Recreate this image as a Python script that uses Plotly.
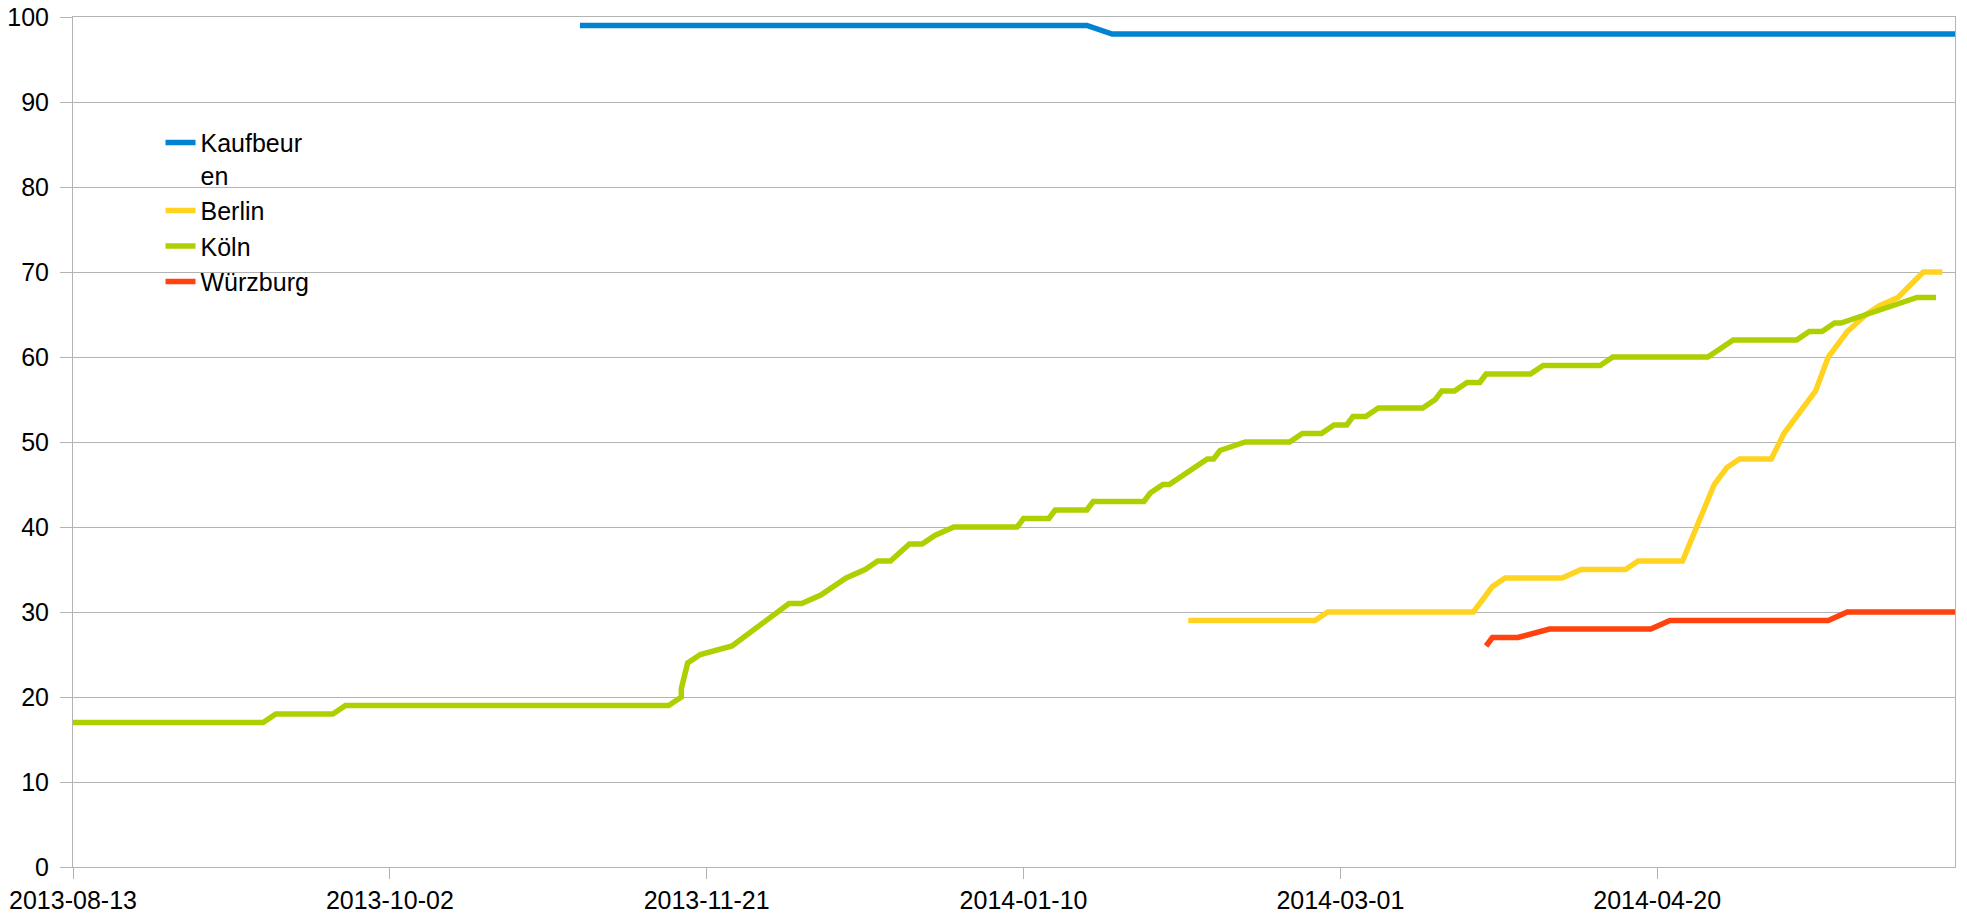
import plotly.graph_objects as go

# ---- data ----
series_names = ["Kaufbeur<br>en", "Berlin", "Köln", "Würzburg"]
series_colors = ["#0084d1", "#ffd320", "#aecf00", "#ff420e"]

kaufbeuren_dates = ["2013-11-01", "2014-01-20", "2014-01-24", "2014-06-06"]
kaufbeuren_vals = [99, 99, 98, 98]

berlin_dates = ["2014-02-05", "2014-02-25", "2014-02-27", "2014-03-22", "2014-03-25",
                "2014-03-27", "2014-04-05", "2014-04-08", "2014-04-15", "2014-04-17",
                "2014-04-24", "2014-04-29", "2014-05-01", "2014-05-03", "2014-05-08",
                "2014-05-10", "2014-05-15", "2014-05-17", "2014-05-20", "2014-05-23",
                "2014-05-25", "2014-05-28", "2014-06-01", "2014-06-04"]
berlin_vals = [29, 29, 30, 30, 33,
               34, 34, 35, 35, 36,
               36, 45, 47, 48, 48,
               51, 56, 60, 63, 65,
               66, 67, 70, 70]

koeln_dates = ["2013-08-13", "2013-09-12", "2013-09-14", "2013-09-23", "2013-09-25",
               "2013-11-15", "2013-11-17", "2013-11-17", "2013-11-18", "2013-11-20",
               "2013-11-25", "2013-12-02", "2013-12-04", "2013-12-06", "2013-12-09",
               "2013-12-13", "2013-12-16", "2013-12-18", "2013-12-20", "2013-12-23",
               "2013-12-25", "2013-12-27", "2013-12-30", "2014-01-09", "2014-01-10",
               "2014-01-14", "2014-01-15", "2014-01-20", "2014-01-21", "2014-01-29",
               "2014-01-30", "2014-02-01", "2014-02-02", "2014-02-08", "2014-02-09",
               "2014-02-10", "2014-02-14", "2014-02-21", "2014-02-23", "2014-02-26",
               "2014-02-28", "2014-03-02", "2014-03-03", "2014-03-05", "2014-03-07",
               "2014-03-14", "2014-03-16", "2014-03-17", "2014-03-19", "2014-03-21",
               "2014-03-23", "2014-03-24", "2014-03-31", "2014-04-02", "2014-04-11",
               "2014-04-13", "2014-04-28", "2014-05-02", "2014-05-12", "2014-05-14",
               "2014-05-16", "2014-05-18", "2014-05-19", "2014-05-23", "2014-05-27",
               "2014-05-31", "2014-06-03"]
koeln_vals = [17, 17, 18, 18, 19,
              19, 20, 21, 24, 25,
              26, 30, 31, 31, 32,
              34, 35, 36, 36, 38,
              38, 39, 40, 40, 41,
              41, 42, 42, 43, 43,
              44, 45, 45, 48, 48,
              49, 50, 50, 51, 51,
              52, 52, 53, 53, 54,
              54, 55, 56, 56, 57,
              57, 58, 58, 59, 59,
              60, 60, 62, 62, 63,
              63, 64, 64, 65, 66,
              67, 67]

wuerzburg_dates = ["2014-03-24", "2014-03-25", "2014-03-29", "2014-04-03", "2014-04-19",
                   "2014-04-22", "2014-05-17", "2014-05-20", "2014-06-06"]
wuerzburg_vals = [26, 27, 27, 28, 28, 29, 29, 30, 30]

x_tick_labels = ["2013-08-13", "2013-10-02", "2013-11-21", "2014-01-10", "2014-03-01", "2014-04-20"]
x_range = ["2013-08-13", "2014-06-06"]

FONT = "Liberation Sans, Arial, sans-serif"
GRID = "#b3b3b3"

fig = go.Figure()
all_series = [
    (kaufbeuren_dates, kaufbeuren_vals),
    (berlin_dates, berlin_vals),
    (koeln_dates, koeln_vals),
    (wuerzburg_dates, wuerzburg_vals),
]
for (xs, ys), name, color in zip(all_series, series_names, series_colors):
    fig.add_trace(go.Scatter(x=xs, y=ys, mode="lines", name=name,
                             line=dict(color=color, width=5.5)))

fig.update_layout(
    width=1967, height=917,
    margin=dict(l=73, r=12, t=17, b=50, autoexpand=False),
    paper_bgcolor="white", plot_bgcolor="white",
    font=dict(family=FONT, size=25, color="black"),
    showlegend=True,
    legend=dict(x=0.0465, y=0.879, xanchor="left", yanchor="top",
                bgcolor="rgba(0,0,0,0)", valign="top",
                font=dict(family=FONT, size=25, color="black"),
                tracegroupgap=0),
    xaxis=dict(type="date", range=x_range, tickvals=x_tick_labels, ticktext=x_tick_labels,
               automargin=False,
               showgrid=False, zeroline=False, showline=True, linecolor=GRID, linewidth=1,
               mirror=True, ticks="outside", ticklen=11, tickcolor=GRID, tickwidth=1),
    yaxis=dict(range=[0, 100], dtick=10, tick0=0, showgrid=True, gridcolor=GRID, gridwidth=1,
               automargin=False, ticklabelstandoff=6,
               zeroline=False, showline=True, linecolor=GRID, linewidth=1, mirror=True,
               ticks="outside", ticklen=12, tickcolor=GRID, tickwidth=1),
)

fig.write_html("out.html", config={"displayModeBar": False},
               post_script="document.body.style.margin='0';document.body.style.overflow='hidden';")
